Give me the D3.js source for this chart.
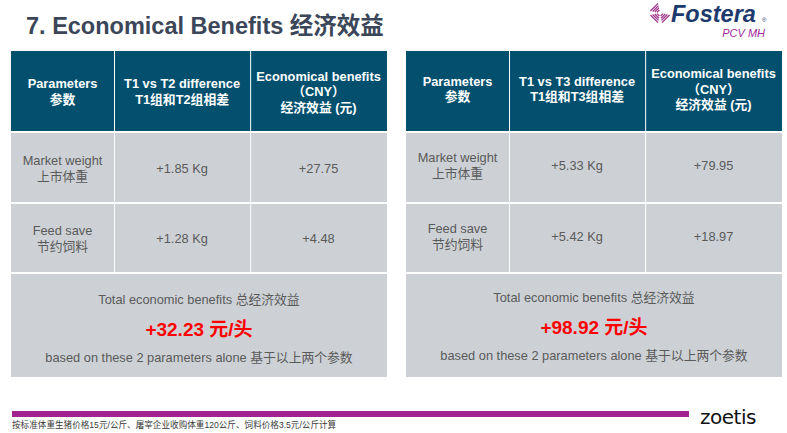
<!DOCTYPE html>
<html><head><meta charset="utf-8">
<script src="https://cdn.jsdelivr.net/npm/d3@7/dist/d3.min.js"></script>
<style>body{margin:0;background:#fff}svg{display:block}</style>
</head><body>
<script>
const title = "7. Economical Benefits 经济效益";
const paramsEn = ["Market weight", "Feed save"];
const paramsZh = ["上市体重", "节约饲料"];
const headerLeft = [["Parameters","参数"],["T1 vs T2 difference","T1组和T2组相差"],["Economical benefits","（CNY）","经济效益 (元)"]];
const headerRight = [["Parameters","参数"],["T1 vs T3 difference","T1组和T3组相差"],["Economical benefits","（CNY）","经济效益 (元)"]];
const diffLeft = [1.85, 1.28];
const benefitLeft = [27.75, 4.48];
const diffRight = [5.33, 5.42];
const benefitRight = [79.95, 18.97];
const totals = [32.23, 98.92];
const totalLabel = "Total economic benefits 总经济效益";
const basedLabel = "based on these 2 parameters alone 基于以上两个参数";
const footnote = "按标准体重生猪价格15元/公斤、屠宰企业收购体重120公斤、饲料价格3.5元/公斤计算";

const W = 787, H = 433;
const svg = d3.select("body").append("svg").attr("width", W).attr("height", H);
const FONT = "Arial, 'Liberation Sans', 'Noto Sans CJK SC', sans-serif";
const FS = 12.8;

svg.append("text").attr("x", 26).attr("y", 34).text(title)
  .attr("font-family", FONT).attr("font-size", 23.5).attr("font-weight", "bold").attr("fill", "#3b4659");

// Fostera logo
const logo = svg.append("g");
const icon = logo.append("g").attr("transform", "translate(660,13)");
[0,1,2,3].forEach(i => {
  const s = 3 + i * 2.2;
  icon.append("path").attr("d", `M${-s},${-s*0.2} L${-s*0.2},${-s} M${s*0.2},${s} L${s},${s*0.2} M${-s},${s*0.2} L${-s*0.2},${s}`)
    .attr("stroke", "#a0378c").attr("stroke-width", 1.3).attr("fill", "none");
});
logo.append("text").attr("x", 671).attr("y", 21.5).text("Fostera")
  .attr("font-family", FONT).attr("font-size", 23.5).attr("font-weight", "bold").attr("font-style", "italic").attr("fill", "#1d3a6e");
logo.append("text").attr("x", 762).attr("y", 21.5).text("®").attr("font-family", FONT).attr("font-size", 6).attr("fill", "#1d3a6e");
logo.append("text").attr("x", 765).attr("y", 37).attr("text-anchor", "end").text("PCV MH")
  .attr("font-family", FONT).attr("font-size", 11).attr("font-style", "italic").attr("fill", "#a0289a");

// Tables
const rowEdges = [51, 132, 203, 273, 377];
function drawTable(x0, x1, colEdges, header, diffs, benefits, total, dy) {
  const g = svg.append("g");
  const x = d3.scaleLinear().domain([0, 1]).range([x0, x1]);
  const cols = [0,1,2].map(i => [colEdges[i], colEdges[i+1]]);
  cols.forEach((c, i) => {
    g.append("rect").attr("x", x(c[0]) + (i ? 1 : 0)).attr("y", rowEdges[0])
      .attr("width", x(c[1]) - x(c[0]) - (i ? 1 : 0)).attr("height", rowEdges[1] - rowEdges[0] - 1)
      .attr("fill", "#02506e");
    const lines = header[i];
    const cy = (rowEdges[0] + rowEdges[1]) / 2 + dy;
    lines.forEach((t, k) => {
      g.append("text").attr("x", (x(c[0]) + x(c[1])) / 2)
        .attr("y", cy + (k - (lines.length - 1) / 2) * 15.5 + 4.5)
        .attr("text-anchor", "middle").text(t)
        .attr("font-family", FONT).attr("font-size", FS).attr("font-weight", "bold").attr("fill", "#ffffff");
    });
  });
  [0,1].forEach(r => {
    const ya = rowEdges[r+1] + 1, yb = rowEdges[r+2] - 1;
    const cy = (ya + yb) / 2 + dy;
    const vals = [null, `+${diffs[r].toFixed(2)} Kg`, `+${benefits[r].toFixed(2)}`];
    cols.forEach((c, i) => {
      g.append("rect").attr("x", x(c[0]) + (i ? 1 : 0)).attr("y", ya)
        .attr("width", x(c[1]) - x(c[0]) - (i ? 1 : 0)).attr("height", yb - ya)
        .attr("fill", "#cdd1d5");
      const cx = (x(c[0]) + x(c[1])) / 2;
      if (i === 0) {
        g.append("text").attr("x", cx).attr("y", cy - 3).attr("text-anchor", "middle").text(paramsEn[r])
          .attr("font-family", FONT).attr("font-size", FS).attr("fill", "#5a5a5a");
        g.append("text").attr("x", cx).attr("y", cy + 13).attr("text-anchor", "middle").text(paramsZh[r])
          .attr("font-family", FONT).attr("font-size", FS).attr("fill", "#5a5a5a");
      } else {
        g.append("text").attr("x", cx).attr("y", cy + 5).attr("text-anchor", "middle").text(vals[i])
          .attr("font-family", FONT).attr("font-size", FS).attr("fill", "#5a5a5a");
      }
    });
  });
  const ta = rowEdges[3] + 1, tb = rowEdges[4];
  g.append("rect").attr("x", x(0)).attr("y", ta).attr("width", x(1) - x(0)).attr("height", tb - ta).attr("fill", "#cdd1d5");
  const cx = (x(0) + x(1)) / 2;
  g.append("text").attr("x", cx).attr("y", ta + 30 + dy).attr("text-anchor", "middle").text(totalLabel)
    .attr("font-family", FONT).attr("font-size", FS).attr("fill", "#5a5a5a");
  g.append("text").attr("x", cx).attr("y", ta + 62 + dy).attr("text-anchor", "middle").text(`+${total.toFixed(2)} 元/头`)
    .attr("font-family", FONT).attr("font-size", 19).attr("font-weight", "bold").attr("fill", "#ff0000");
  g.append("text").attr("x", cx).attr("y", ta + 88 + dy).attr("text-anchor", "middle").text(basedLabel)
    .attr("font-family", FONT).attr("font-size", FS).attr("fill", "#5a5a5a");
}
drawTable(11, 387, [0, 0.274, 0.636, 1], headerLeft, diffLeft, benefitLeft, totals[0], 0);
drawTable(406, 782, [0, 0.274, 0.636, 1], headerRight, diffRight, benefitRight, totals[1], -2.5);

// footer
svg.append("rect").attr("x", 12).attr("y", 411).attr("width", 677).attr("height", 6).attr("fill", "#a2228f");
svg.append("text").attr("x", 12).attr("y", 428).text(footnote)
  .attr("font-family", FONT).attr("font-size", 8.6).attr("fill", "#3a3a3a");
svg.append("text").attr("x", 700).attr("y", 424).text("zoetis")
  .attr("font-family", "'DejaVu Sans', sans-serif").attr("font-size", 20).attr("fill", "#111").attr("letter-spacing", -0.5);
</script>
</body></html>
